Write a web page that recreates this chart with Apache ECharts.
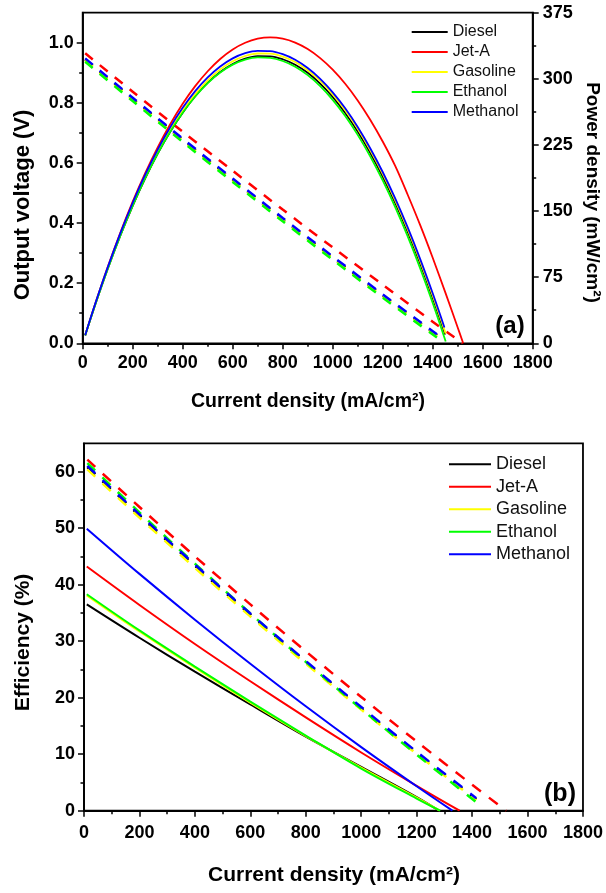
<!DOCTYPE html>
<html><head><meta charset="utf-8">
<script src="https://cdn.jsdelivr.net/npm/echarts@6/dist/echarts.min.js"></script>
<style>html,body{margin:0;padding:0;background:#fff;}#a{width:606px;height:420px;}#b{width:606px;height:473px;}</style>
</head><body><div id="a"></div><div id="b"></div>
<script>
// ---------- names & colours ----------
const FUELS = ['Diesel', 'Jet-A', 'Gasoline', 'Ethanol', 'Methanol'];
const COLORS = ['#000000', '#ff0000', '#ffff00', '#00ff00', '#0000ff'];

// ---------- axis ticks ----------
const xTicks = [0, 200, 400, 600, 800, 1000, 1200, 1400, 1600, 1800];
const voltMajor = [0, 0.2, 0.4, 0.6, 0.8, 1.0];
const voltMinor = [0.1, 0.3, 0.5, 0.7, 0.9];
const powerTicks = [0, 75, 150, 225, 300, 375];
const effMajor = [0, 10, 20, 30, 40, 50, 60];
const effMinor = [5, 15, 25, 35, 45, 55];

// ---------- (a) output voltage (V), dashed ----------
const aVoltI_Diesel = [10, 200, 400, 600, 800, 1000, 1200, 1420];
const aVolt_Diesel = [0.944, 0.813, 0.677, 0.544, 0.413, 0.285, 0.159, 0.025];
const aVoltI_JetA = [10, 200, 400, 600, 800, 1000, 1200, 1400, 1485, 1520];
const aVolt_JetA = [0.965, 0.837, 0.704, 0.574, 0.445, 0.319, 0.195, 0.072, 0.021, 0];
const aVoltI_Gasoline = [10, 200, 400, 600, 800, 1000, 1200, 1420];
const aVolt_Gasoline = [0.941, 0.810, 0.674, 0.541, 0.410, 0.282, 0.156, 0.022];
const aVoltI_Ethanol = [10, 200, 400, 600, 800, 1000, 1200, 1422];
const aVolt_Ethanol = [0.937, 0.806, 0.670, 0.537, 0.406, 0.278, 0.152, 0.016];
const aVoltI_Methanol = [10, 200, 400, 600, 800, 1000, 1200, 1420];
const aVolt_Methanol = [0.948, 0.817, 0.681, 0.548, 0.417, 0.289, 0.163, 0.028];

// ---------- (a) power density (mW/cm2), solid ----------
const aPowI_Diesel = [10, 50, 100, 150, 200, 250, 300, 350, 400, 450, 500, 550, 600, 650, 700, 750, 800, 850, 900, 950, 1000, 1050, 1100, 1150, 1200, 1250, 1300, 1350, 1400, 1450];
const aPow_Diesel = [9.0, 43.7, 84.3, 121.7, 156.0, 187.1, 215.1, 239.9, 261.6, 280.2, 295.6, 307.8, 316.9, 322.9, 325.7, 325.5, 322.2, 316.0, 306.8, 294.6, 279.5, 261.3, 240.3, 216.2, 189.2, 159.2, 126.3, 90.4, 51.5, 10];
const aPowI_JetA = [10, 50, 100, 150, 200, 250, 300, 350, 400, 450, 500, 550, 600, 650, 700, 750, 800, 850, 900, 950, 1000, 1050, 1100, 1150, 1200, 1250, 1300, 1350, 1400, 1450, 1500, 1522];
const aPow_JetA = [9.2, 44.8, 86.5, 125.1, 160.6, 193.0, 222.3, 248.5, 271.7, 291.7, 308.6, 322.5, 333.3, 340.9, 345.5, 347.0, 345.5, 341.1, 333.8, 323.5, 310.4, 294.4, 275.5, 253.6, 228.9, 201.2, 168.5, 134, 97, 58, 18, 0];
const aPowI_Gasoline = [10, 50, 100, 150, 200, 250, 300, 350, 400, 450, 500, 550, 600, 650, 700, 750, 800, 850, 900, 950, 1000, 1050, 1100, 1150, 1200, 1250, 1300, 1350, 1400, 1452];
const aPow_Gasoline = [9.1, 44.1, 85.0, 122.8, 157.4, 188.8, 217.0, 242.1, 264.0, 282.7, 298.3, 310.7, 319.9, 325.9, 328.7, 328.5, 325.2, 319.0, 309.7, 297.6, 282.4, 264.3, 243.2, 219.1, 192.1, 162.0, 129.1, 93.1, 54.2, 11];
const aPowI_Ethanol = [10, 50, 100, 150, 200, 250, 300, 350, 400, 450, 500, 550, 600, 650, 700, 750, 800, 850, 900, 950, 1000, 1050, 1100, 1150, 1200, 1250, 1300, 1350, 1400, 1452];
const aPow_Ethanol = [9.0, 43.8, 84.4, 121.9, 156.1, 187.3, 215.2, 239.9, 261.5, 279.9, 295.2, 307.2, 316.1, 321.8, 324.4, 323.8, 320.2, 313.7, 304.2, 291.7, 276.2, 257.8, 236.4, 212.1, 184.7, 154.4, 121.2, 84.9, 45.7, 2];
const aPowI_Methanol = [10, 50, 100, 150, 200, 250, 300, 350, 400, 450, 500, 550, 600, 650, 700, 750, 800, 850, 900, 950, 1000, 1050, 1100, 1150, 1200, 1250, 1300, 1350, 1400, 1447];
const aPow_Methanol = [9.2, 44.7, 86.1, 124.4, 159.4, 191.2, 219.7, 245.0, 267.1, 286.0, 301.6, 314.0, 323.2, 329.1, 331.8, 331.4, 327.9, 321.6, 312.2, 300.0, 284.7, 266.6, 245.4, 221.3, 194.3, 164.3, 131.4, 95.5, 56.7, 18];

// ---------- (b) efficiency (%), dashed ----------
const bDashI = [12, 200, 400, 600, 800, 1000, 1200, 1415];
const bDash_Diesel = [60.8, 52.23, 43.34, 34.7, 26.3, 18.15, 10.24, 2.0];
const bDashI_JetA = [12, 200, 400, 600, 800, 1000, 1200, 1400, 1523];
const bDash_JetA = [62.1, 53.73, 45.0, 36.5, 28.2, 20.13, 12.25, 4.59, 0];
const bDash_Gasoline = [60.4, 51.85, 42.98, 34.37, 26.0, 17.9, 10.04, 1.85];
const bDash_Ethanol = [61.5, 52.77, 43.71, 34.9, 26.33, 18.01, 9.92, 1.5];
const bDash_Methanol = [61.0, 52.43, 43.54, 34.9, 26.5, 18.35, 10.44, 2.2];

// ---------- (b) efficiency (%), solid ----------
const bSolI_Diesel = [10, 200, 400, 600, 800, 1000, 1200, 1281];
const bSol_Diesel = [36.5, 30.6, 24.6, 18.8, 13.1, 7.75, 2.4, 0];
const bSolI_JetA = [10, 200, 400, 600, 800, 1000, 1200, 1355];
const bSol_JetA = [43.2, 36.4, 29.5, 22.9, 16.5, 10.3, 4.4, 0];
const bSolI_Gasoline = [10, 200, 400, 600, 800, 1000, 1200, 1283];
const bSol_Gasoline = [38.1, 31.7, 25.3, 19.1, 13.2, 7.6, 2.3, 0];
const bSolI_Ethanol = [10, 200, 400, 600, 800, 1000, 1200, 1285];
const bSol_Ethanol = [38.3, 31.9, 25.5, 19.3, 13.3, 7.45, 2.15, 0];
const bSolI_Methanol = [10, 200, 400, 600, 800, 1000, 1200, 1329];
const bSol_Methanol = [49.9, 41.9, 33.8, 26.0, 18.47, 11.25, 4.32, 0];

// ---------- helpers ----------
function pairs(xs, ys) { return xs.map((x, i) => [x, ys[i]]); }
const FONT = "'Liberation Sans', Arial, Helvetica, sans-serif";
const tickLabel = { fontFamily: FONT, fontSize: 18, fontWeight: 'bold', color: '#000' };
const axLine = { show: true, onZero: false, lineStyle: { color: '#000', width: 1.8 } };
const tickStyle = { color: '#000', width: 1.5 };
const legendItem = { opacity: 0, color: 'transparent', borderColor: 'transparent', borderWidth: 0 };

function xAxisCfg(margin) {
  return {
    type: 'value', min: 0, max: 1800, interval: 200,
    axisLine: axLine,
    axisTick: { show: true, inside: false, length: 6, lineStyle: tickStyle },
    minorTick: { show: true, splitNumber: 2, length: 3.5, lineStyle: tickStyle },
    splitLine: { show: false }, minorSplitLine: { show: false },
    axisLabel: Object.assign({ margin: margin, customValues: xTicks, formatter: v => String(v) }, tickLabel)
  };
}
function solid(name, data, color, width, yIdx) {
  return { type: 'line', name: name, data: data, yAxisIndex: yIdx, symbol: 'none', smooth: 0.35,
    lineStyle: { color: color, width: width, type: 'solid' }, itemStyle: { color: color }, z: 3 };
}
function dashed(name, data, color, width, yIdx, dash) {
  return { type: 'line', name: name, data: data, yAxisIndex: yIdx, symbol: 'none', smooth: 0.3,
    lineStyle: { color: color, width: width, type: dash }, itemStyle: { color: color }, z: 2 };
}
function txt(x, y, text, size, rot) {
  return { type: 'text', x: x, y: y, rotation: rot || 0, z: 10,
    style: { text: text, fontFamily: FONT, fontSize: size, fontWeight: 'bold', fill: '#000',
      align: 'center', verticalAlign: 'middle', textAlign: 'center', textVerticalAlign: 'middle' } };
}

// ---------- chart (a) ----------
const aVoltData = [pairs(aVoltI_Diesel, aVolt_Diesel), pairs(aVoltI_JetA, aVolt_JetA), pairs(aVoltI_Gasoline, aVolt_Gasoline), pairs(aVoltI_Ethanol, aVolt_Ethanol), pairs(aVoltI_Methanol, aVolt_Methanol)];
const aPowData = [pairs(aPowI_Diesel, aPow_Diesel), pairs(aPowI_JetA, aPow_JetA), pairs(aPowI_Gasoline, aPow_Gasoline), pairs(aPowI_Ethanol, aPow_Ethanol), pairs(aPowI_Methanol, aPow_Methanol)];
const aSeries = [];
FUELS.forEach((f, i) => aSeries.push(dashed(f + ' voltage', aVoltData[i], COLORS[i], 2.5, 0, [10, 9])));
FUELS.forEach((f, i) => aSeries.push(solid(f, aPowData[i], COLORS[i], 1.8, 1)));

const chartA = echarts.init(document.getElementById('a'), null, { renderer: 'canvas' });
chartA.setOption({
  animation: false,
  backgroundColor: '#fff',
  grid: { left: 82.7, right: 73.3, top: 12.7, height: 330.6, show: true, borderColor: '#000', borderWidth: 1.8 },
  xAxis: [xAxisCfg(11)],
  yAxis: [
    { type: 'value', position: 'left', min: 0, max: 1.1, interval: 0.1,
      axisLine: axLine,
      axisTick: { show: true, inside: false, length: 6, lineStyle: tickStyle, customValues: voltMajor },
      splitLine: { show: false },
      axisLabel: Object.assign({ margin: 9, customValues: voltMajor, formatter: v => Number(v).toFixed(1) }, tickLabel) },
    { type: 'value', position: 'right', min: 0, max: 375, interval: 75,
      axisLine: axLine,
      axisTick: { show: true, inside: false, length: 6, lineStyle: tickStyle },
      minorTick: { show: true, splitNumber: 2, length: 3.5, lineStyle: tickStyle },
      splitLine: { show: false }, minorSplitLine: { show: false },
      axisLabel: Object.assign({ margin: 10, customValues: powerTicks, formatter: v => String(v) }, tickLabel) },
    { type: 'value', position: 'left', min: 0, max: 1.1, interval: 0.1,
      axisLine: { show: false },
      axisTick: { show: true, inside: false, length: 3.5, lineStyle: tickStyle, customValues: voltMinor },
      splitLine: { show: false }, axisLabel: { show: false } }
  ],
  legend: { orient: 'vertical', left: 410.7, top: 22, padding: 0, itemWidth: 36, itemHeight: 14, itemGap: 0,
    selectedMode: false, data: FUELS, itemStyle: legendItem,
    textStyle: { fontFamily: FONT, fontSize: 16, color: '#111', lineHeight: 20 } },
  series: aSeries,
  graphic: [
    txt(22.5, 205, 'Output voltage (V)', 22, Math.PI / 2),
    txt(592, 192.5, 'Power density (mW/cm²)', 19, -Math.PI / 2),
    txt(308, 402, 'Current density (mA/cm²)', 19.5, 0),
    txt(510, 326, '(a)', 24, 0)
  ]
});

// ---------- chart (b) ----------
const bDashData = [pairs(bDashI, bDash_Diesel), pairs(bDashI_JetA, bDash_JetA), pairs(bDashI, bDash_Gasoline), pairs(bDashI, bDash_Ethanol), pairs(bDashI, bDash_Methanol)];
const bSolData = [pairs(bSolI_Diesel, bSol_Diesel), pairs(bSolI_JetA, bSol_JetA), pairs(bSolI_Gasoline, bSol_Gasoline), pairs(bSolI_Ethanol, bSol_Ethanol), pairs(bSolI_Methanol, bSol_Methanol)];
const bSeries = [];
FUELS.forEach((f, i) => bSeries.push(dashed(f + ' dashed', bDashData[i], COLORS[i], 2.5, 0, [11, 10])));
FUELS.forEach((f, i) => bSeries.push(solid(f, bSolData[i], COLORS[i], 2, 0)));

const chartB = echarts.init(document.getElementById('b'), null, { renderer: 'canvas' });
chartB.setOption({
  animation: false,
  backgroundColor: '#fff',
  grid: { left: 84, right: 22.5, top: 23.3, height: 367.4, show: true, borderColor: '#000', borderWidth: 1.8 },
  xAxis: [xAxisCfg(13)],
  yAxis: [
    { type: 'value', position: 'left', min: 0, max: 65, interval: 5,
      axisLine: axLine,
      axisTick: { show: true, inside: false, length: 6, lineStyle: tickStyle, customValues: effMajor },
      splitLine: { show: false },
      axisLabel: Object.assign({ margin: 9, customValues: effMajor, formatter: v => String(v) }, tickLabel) },
    { type: 'value', position: 'left', min: 0, max: 65, interval: 5,
      axisLine: { show: false },
      axisTick: { show: true, inside: false, length: 3.5, lineStyle: tickStyle, customValues: effMinor },
      splitLine: { show: false }, axisLabel: { show: false } }
  ],
  legend: { orient: 'vertical', left: 448, top: 33, padding: 0, itemWidth: 42, itemHeight: 14, itemGap: 0,
    selectedMode: false, data: FUELS, itemStyle: legendItem,
    textStyle: { fontFamily: FONT, fontSize: 18, color: '#111', lineHeight: 22.5 } },
  series: bSeries,
  graphic: [
    txt(23, 222.5, 'Efficiency (%)', 21, Math.PI / 2),
    txt(334, 455, 'Current density (mA/cm²)', 21, 0),
    txt(560, 374.5, '(b)', 25, 0)
  ]
});
</script>
</body></html>
